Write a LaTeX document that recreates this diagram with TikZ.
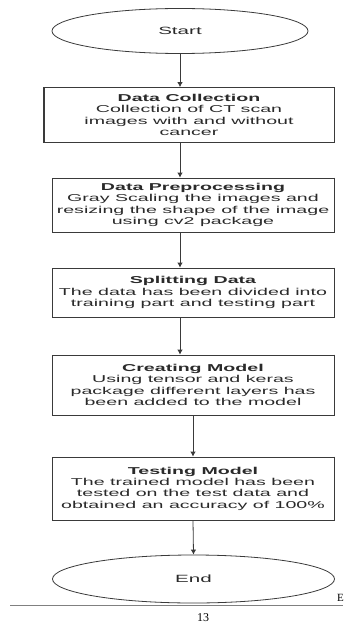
\documentclass[tikz,border=0pt]{standalone}
\usepackage{fontspec}
\setmainfont{Liberation Sans}[FakeStretch=1.96]
\newfontfamily\pageserif{Liberation Serif}
\usetikzlibrary{arrows.meta,shapes.geometric}
\definecolor{linec}{HTML}{3A3A3A}
\definecolor{txtc}{HTML}{2A2A2A}
\tikzset{
  stepbox/.style={draw=linec, line width=0.8pt, fill=white, rectangle, align=center,
    inner sep=0pt, text=txtc, font=\fontsize{10}{11.3}\selectfont},
  term/.style={draw=linec, line width=0.8pt, ellipse, inner sep=0pt, text=txtc,
    font=\fontsize{10.5}{12}\selectfont},
  arr/.style={draw=linec, line width=0.8pt, -{Latex[length=5pt,width=5.5pt]}},
  heavy/.style={draw=linec, line width=1.8pt},
}
\begin{document}
\begin{tikzpicture}[x=1pt,y=-1pt]
\useasboundingbox (0,0) rectangle (343,623);
\clip (0,0) rectangle (343,623);
\fill[white] (0,0) rectangle (343,623);

\node[term, minimum width=256pt, minimum height=45pt] (start) at (180,31) {Start};

\node[stepbox, minimum width=290pt, minimum height=55pt] (b1) at (189,115)
  {\textbf{Data Collection}\\Collection of CT scan\\images with and without\\cancer};
\node[stepbox, minimum width=282pt, minimum height=54pt] (b2) at (193,205)
  {\textbf{Data Preprocessing}\\Gray Scaling the images and\\resizing the shape of the image\\using cv2 package};
\node[stepbox, minimum width=282pt, minimum height=49pt] (b3) at (193,292.5)
  {\textbf{Splitting Data}\\The data has been divided into\\training part and testing part};
\node[stepbox, minimum width=282pt, minimum height=60pt] (b4) at (193,385)
  {\textbf{Creating Model}\\Using tensor and keras\\package different layers has\\been added to the model};
\node[stepbox, minimum width=282pt, minimum height=63pt] (b5) at (193,488.5)
  {\textbf{Testing Model}\\The trained model has been\\tested on the test data and\\obtained an accuracy of 100\%};

\node[term, minimum width=282pt, minimum height=48pt] (end) at (193.5,579) {End};

% heavier side edges
\draw[heavy] (b1.north west) -- (b1.south west);
\foreach \b in {b1,b2,b3,b4,b5} \draw[heavy] (\b.north east) -- (\b.south east);

% connectors
\draw[arr] (start.south) -- (start.south |- b1.north);
\draw[arr] (start.south |- b1.south) -- (start.south |- b2.north);
\draw[arr] (start.south |- b2.south) -- (start.south |- b3.north);
\draw[arr] (start.south |- b3.south) -- (start.south |- b4.north);
\draw[arr] (b4.south) -- (b5.north);
\draw[arr] (b5.south) -- (end.north);

% page footer remnants
\coordinate (fl) at (10,605);
\coordinate (fr) at (343,605);
\draw[gray, line width=0.7pt] (fl) -- (fr);
\node[font=\pageserif\fontsize{12}{12}\selectfont, anchor=north, inner sep=0pt] (pg) at (203,613) {13};
\node[font=\pageserif\fontsize{11}{11}\selectfont, anchor=west, inner sep=0pt] (fe) at (337,598) {E};
\end{tikzpicture}
\end{document}
